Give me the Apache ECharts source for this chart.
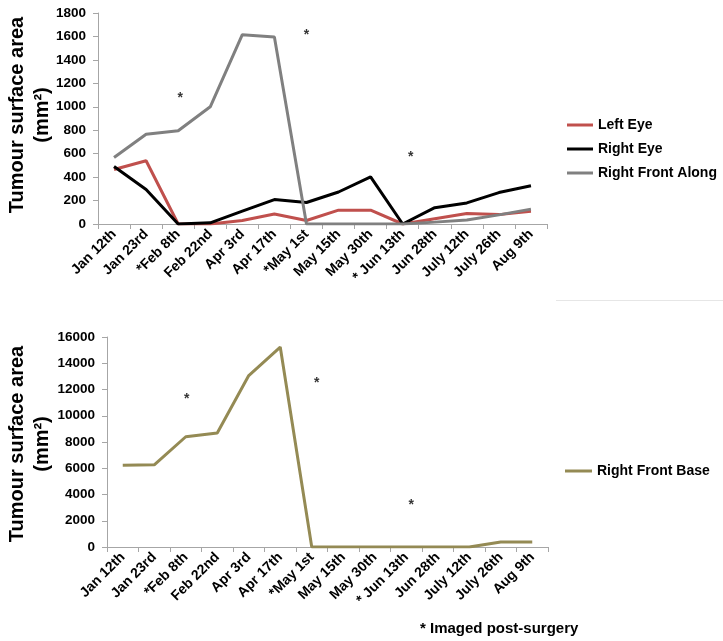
<!DOCTYPE html>
<html>
<head>
<meta charset="utf-8">
<script src="https://cdn.jsdelivr.net/npm/echarts@6/dist/echarts.min.js"></script>
<style>html,body{margin:0;padding:0;background:#fff;}#c{width:723px;height:641px;}</style>
</head>
<body>
<div id="c"></div>
<script>
var categories = ['Jan 12th','Jan 23rd','*Feb 8th','Feb 22nd','Apr 3rd','Apr 17th','*May 1st','May 15th','May 30th','* Jun 13th','Jun 28th','July 12th','July 26th','Aug 9th'];
var leftEye = [465, 540, 0, 0, 30, 85, 30, 118, 118, 0, 45, 90, 80, 108];
var rightEye = [490, 295, 0, 10, 110, 208, 183, 273, 402, 0, 139, 180, 268, 326];
var rightFrontAlong = [567, 766, 795, 1000, 1615, 1596, 0, 0, 0, 0, 16, 34, 78, 127];
var rightFrontBase = [6220, 6260, 8400, 8680, 13060, 15230, 0, 0, 0, 0, 0, 0, 380, 380];
var topTicks = {min: 0, max: 1800, interval: 200};
var bottomTicks = {min: 0, max: 16000, interval: 2000};
var asterisksTop = [['*Feb 8th', 1070], ['*May 1st', 1610], ['* Jun 13th', 570]];
var asterisksBottom = [['*Feb 8th', 11280], ['*May 1st', 12450], ['* Jun 13th', 3210]];
var yTitle = 'Tumour surface area\n(mm\u00B2)';
var footnote = '* Imaged post-surgery';

var FONT = '"Liberation Sans", Arial, sans-serif';
var axisColor = '#A6A6A6';

function xAxisFor(gi) {
  return {
    type: 'category', gridIndex: gi, data: categories, boundaryGap: true,
    axisLine: {lineStyle: {color: axisColor, width: 1}},
    axisTick: {show: true, length: 5, lineStyle: {color: axisColor}, alignWithLabel: false},
    axisLabel: {rotate: 45, interval: 0, margin: 8, hideOverlap: false, color: '#000', fontFamily: FONT, fontWeight: 'bold', fontSize: 14},
    splitLine: {show: false}
  };
}
function yAxisFor(gi, t) {
  return {
    type: 'value', gridIndex: gi, min: t.min, max: t.max, interval: t.interval,
    axisLine: {show: true, lineStyle: {color: axisColor, width: 1}},
    axisTick: {show: true, length: 5, lineStyle: {color: axisColor}},
    axisLabel: {margin: 12, color: '#000', fontFamily: FONT, fontWeight: 'bold', fontSize: 13.5,
                formatter: function (v) { return String(v); }},
    splitLine: {show: false}
  };
}
function lineSeries(name, data, color, gi) {
  return {
    name: name, type: 'line', data: data, xAxisIndex: gi, yAxisIndex: gi,
    symbol: 'none', smooth: false,
    lineStyle: {color: color, width: 3}, itemStyle: {color: color},
    emphasis: {disabled: true}, animation: false
  };
}
function starSeries(data, gi, offsets) {
  return {
    type: 'scatter', xAxisIndex: gi, yAxisIndex: gi, symbolSize: 0,
    data: data.map(function (d, i) { return {value: d, label: {offset: offsets[i]}}; }),
    label: {show: true, formatter: '*', color: '#000', fontFamily: FONT, fontWeight: 'bold', fontSize: 14, position: 'inside'},
    silent: true, animation: false
  };
}
function yTitleText(cx, cy) {
  return {type: 'text', x: cx, y: cy, rotation: Math.PI / 2,
          style: {text: yTitle, fill: '#000', fontFamily: FONT, fontWeight: 'bold', fontSize: 20, lineHeight: 25,
                  align: 'center', verticalAlign: 'middle'}};
}
var legendText = {color: '#000', fontFamily: FONT, fontWeight: 'bold', fontSize: 14, lineHeight: 14};

var chart = echarts.init(document.getElementById('c'), null, {renderer: 'canvas'});
chart.setOption({
  backgroundColor: '#fff',
  animation: false,
  grid: [
    {left: 98, top: 13, right: 176, bottom: 417, containLabel: false, outerBoundsMode: 'none'},
    {left: 107, top: 337, right: 175, bottom: 94, containLabel: false, outerBoundsMode: 'none'}
  ],
  xAxis: [xAxisFor(0), xAxisFor(1)],
  yAxis: [yAxisFor(0, topTicks), yAxisFor(1, bottomTicks)],
  legend: [
    {data: ['Left Eye', 'Right Eye', 'Right Front Along'], orient: 'vertical', left: 567, top: 118, padding: 0,
     itemWidth: 26, itemHeight: 3, itemGap: 10, icon: 'rect', selectedMode: false, textStyle: legendText},
    {data: ['Right Front Base'], orient: 'vertical', left: 565, top: 464, padding: 0,
     itemWidth: 27, itemHeight: 3, icon: 'rect', selectedMode: false, textStyle: legendText}
  ],
  graphic: [
    yTitleText(30, 115),
    yTitleText(30, 444),
    {type: 'text', left: 420, top: 621, style: {text: footnote, fill: '#000', font: 'bold 15px ' + FONT}},
    {type: 'line', shape: {x1: 556, y1: 300.5, x2: 723, y2: 300.5}, style: {stroke: '#E6E6E6', lineWidth: 1}}
  ],
  series: [
    lineSeries('Left Eye', leftEye, '#C0504D', 0),
    lineSeries('Right Eye', rightEye, '#000000', 0),
    lineSeries('Right Front Along', rightFrontAlong, '#808080', 0),
    lineSeries('Right Front Base', rightFrontBase, '#948A54', 1),
    starSeries(asterisksTop, 0, [[2, 0], [0, 0], [8, 0]]),
    starSeries(asterisksBottom, 1, [[1, 0], [5, 0], [5, 0]])
  ]
});
</script>
</body>
</html>
